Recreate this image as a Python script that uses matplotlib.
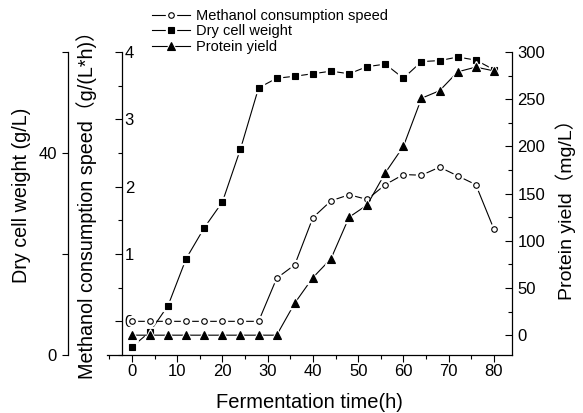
import matplotlib
matplotlib.use("Agg")
import matplotlib.pyplot as plt
import matplotlib.ticker as mt

plt.rcParams['font.family'] = ['Liberation Sans', 'Noto Sans CJK SC', 'DejaVu Sans']

# fermentation time (h)
time_h = [0, 4, 8, 12, 16, 20, 24, 28, 32, 36, 40, 44, 48, 52, 56, 60, 64, 68, 72, 76, 80]
# dry cell weight (g/L)
dry_cell_weight = [1.6, 4.6, 9.8, 19.1, 25.2, 30.3, 40.8, 52.9, 54.8, 55.2, 55.7,
                   56.2, 55.7, 57.1, 57.6, 54.8, 58.1, 58.3, 59.0, 58.4, 56.5]
# methanol consumption speed (g/(L*h))
methanol_speed = [0, 0, 0, 0, 0, 0, 0, 0, 0.64, 0.84, 1.54,
                  1.79, 1.88, 1.81, 2.03, 2.18, 2.17, 2.29, 2.16, 2.03, 1.37]
# protein yield (mg/L)
protein_yield = [0, 0, 0, 0, 0, 0, 0, 0, 0, 34, 61,
                 81, 125, 138, 172, 200, 251, 259, 279, 284, 280]

labels = ["Methanol consumption speed", "Dry cell weight", "Protein yield"]

W, H = 583, 413
fig = plt.figure(figsize=(W / 100, H / 100), dpi=100)
left, right, bottom, top = 107, 512, 355, 52
ax = fig.add_axes([left / W, 1 - bottom / H, (right - left) / W, (bottom - top) / H])
ax_m = ax.twinx()
ax_p = ax.twinx()


def draw(a, y, marker, fill, ms):
    line, = a.plot(time_h, y, '-', color='black', lw=0.8, zorder=2)
    halo, = a.plot(time_h, y, ls='none', marker=marker, ms=ms + 3.2,
                   mfc='white', mec='white', zorder=3)
    mark, = a.plot(time_h, y, ls='none', marker=marker, ms=ms,
                   mfc=fill, mec='black', mew=0.8, zorder=4)
    return (line, halo, mark)


h_dry = draw(ax, dry_cell_weight, 's', 'black', 4.4)
h_met = draw(ax_m, methanol_speed, 'o', 'white', 4.0)
h_pro = draw(ax_p, protein_yield, '^', 'black', 5.2)

ax.set_xlim(-5.5, 84)
ax.set_ylim(0, 60)
ax_m.set_ylim(-0.5, 4.0)
ax_p.set_ylim(-21, 300)

# host: x axis and dry cell weight axis (offset outward)
for s in ['top', 'right']:
    ax.spines[s].set_visible(False)
ax.spines['left'].set_position(('axes', -39 / (right - left)))
ax.xaxis.set_major_locator(mt.MultipleLocator(10))
ax.xaxis.set_minor_locator(mt.MultipleLocator(5))
ax.yaxis.set_major_locator(mt.MultipleLocator(40))
ax.yaxis.set_minor_locator(mt.MultipleLocator(20))
ax.tick_params(axis='x', which='major', direction='out', length=5, width=0.8,
               labelsize=12, pad=1.5)
ax.tick_params(axis='x', which='minor', direction='out', length=3, width=0.8)
ax.tick_params(axis='y', which='major', direction='out', length=4, width=0.8,
               labelsize=12, pad=4)
ax.tick_params(axis='y', which='minor', direction='out', length=4, width=0.8)

# methanol axis: spine just inside the x range, labels to its right
for s in ['top', 'bottom', 'left']:
    ax_m.spines[s].set_visible(False)
ax_m.spines['right'].set_position(('axes', 15 / (right - left)))
ax_m.yaxis.set_major_locator(mt.MultipleLocator(1))
ax_m.yaxis.set_minor_locator(mt.MultipleLocator(0.5))
ax_m.tick_params(axis='y', which='major', direction='in', length=5, width=0.8,
                 labelsize=12, pad=2)
ax_m.tick_params(axis='y', which='minor', direction='in', length=3, width=0.8)

# protein axis on the right
for s in ['top', 'bottom', 'left']:
    ax_p.spines[s].set_visible(False)
ax_p.yaxis.set_major_locator(mt.MultipleLocator(50))
ax_p.yaxis.set_minor_locator(mt.MultipleLocator(25))
ax_p.tick_params(axis='y', which='major', direction='in', length=5, width=0.8,
                 labelsize=12, pad=4)
ax_p.tick_params(axis='y', which='minor', direction='in', length=3, width=0.8)

for a in (ax, ax_m, ax_p):
    for s in a.spines.values():
        s.set_linewidth(0.9)

# axis titles
fig.text(309 / W, 1 - 402 / H, "Fermentation time(h)", ha='center', va='center', fontsize=14.5)
fig.text(22 / W, 1 - 195 / H, "Dry cell weight (g/L)", ha='center', va='center',
         rotation=90, fontsize=14.2)
fig.text(87 / W, 1 - 200 / H, "Methanol consumption speed（g/(L*h)）", ha='center',
         va='center', rotation=90, fontsize=14.2)
fig.text(566 / W, 1 - 205 / H, "Protein yield（mg/L）", ha='center', va='center',
         rotation=90, fontsize=14)

fig.legend([h_met, h_dry, h_pro], labels, loc='upper left',
           bbox_to_anchor=(152 / W, 1 - 9 / H), frameon=False, fontsize=10.5,
           handlelength=2.6, handletextpad=0.4, labelspacing=0.1,
           borderpad=0, borderaxespad=0)

fig.savefig("out.png", dpi=100)
